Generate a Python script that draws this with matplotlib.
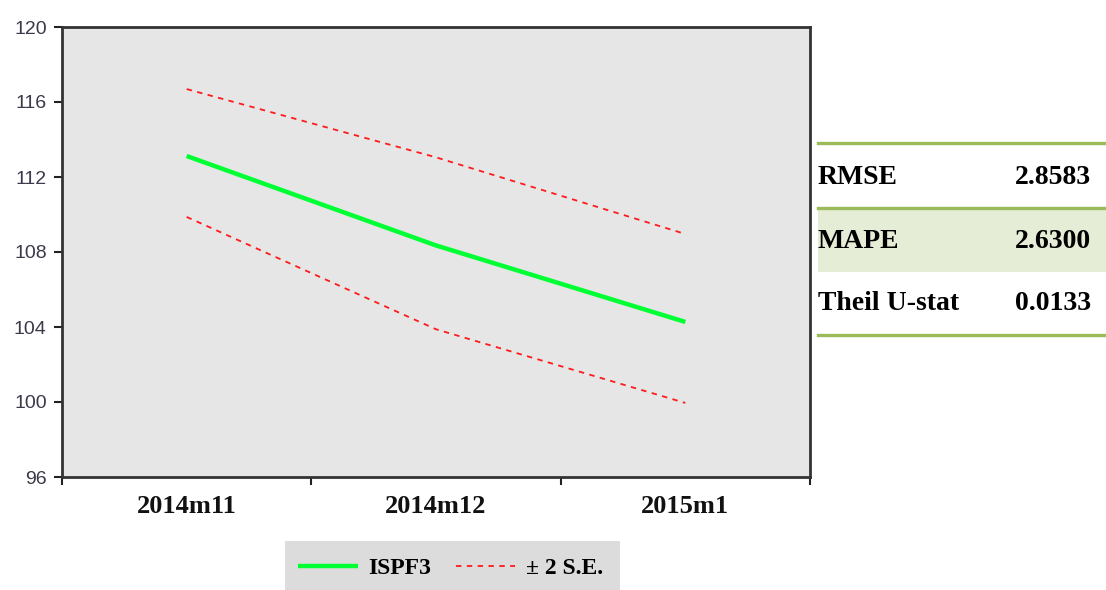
import numpy as np
import matplotlib
matplotlib.use("Agg")
import matplotlib.pyplot as plt
from matplotlib.patches import Rectangle
from matplotlib.lines import Line2D

# data
periods = ["2014m11", "2014m12", "2015m1"]
forecast = [113.12, 108.35, 104.27]
upper = [116.69, 113.05, 108.96]
lower = [109.87, 103.88, 99.95]
yticks = [96, 100, 104, 108, 112, 116, 120]

stat_names = ["RMSE", "MAPE", "Theil U-stat"]
stat_values = ["2.8583", "2.6300", "0.0133"]

W, H = 1106, 590
fig = plt.figure(figsize=(W / 100, H / 100), dpi=100)
fig.patch.set_facecolor("white")

# plot area
ax = fig.add_axes([62 / W, 1 - 477 / H, (810 - 62) / W, (477 - 27) / H])
ax.set_facecolor("#e6e6e6")
x = np.arange(1, len(periods) + 1)
ax.plot(x, forecast, color="#00ff33", lw=3.2, solid_capstyle="butt",
        label="ISPF3", zorder=3)
ax.plot(x, upper, color="#ff1a1a", lw=1.3, dashes=(3, 3), label="± 2 S.E.", zorder=2)
ax.plot(x, lower, color="#ff1a1a", lw=1.3, dashes=(3, 3), zorder=2)

ax.set_xlim(0.5, len(periods) + 0.5)
ax.set_ylim(96, 120)
ax.set_yticks(yticks)
ax.set_yticklabels([str(v) for v in yticks], fontfamily="Liberation Sans",
                   fontsize=14, color="#3a3a4a")
ax.set_xticks(np.arange(0.5, len(periods) + 1, 1.0))
ax.set_xticklabels([])
ax.set_xticks(x, minor=True)
ax.set_xticklabels(periods, minor=True, fontfamily="Liberation Serif",
                   fontweight="bold", fontsize=19, color="#111111")
ax.tick_params(axis="x", which="minor", length=0, pad=13)
ax.tick_params(axis="both", which="major", direction="out", length=6,
               width=1.5, color="#222222")
ax.tick_params(axis="y", pad=5)
for s in ax.spines.values():
    s.set_color("#333333")
    s.set_linewidth(2)

# legend box
fig.patches.append(Rectangle((285 / W, 0), (620 - 285) / W, (590 - 541) / H,
                             transform=fig.transFigure, facecolor="#dcdcdc",
                             edgecolor="none", zorder=0))
leg = fig.legend(loc="center", bbox_to_anchor=(451 / W, 1 - 568 / H), ncol=2,
                 frameon=False, handlelength=2.5, columnspacing=1.05,
                 handletextpad=0.47,
                 prop={"family": "Liberation Serif", "weight": "bold", "size": 17})

# stats table on the right
green = "#9bbb59"
fig.patches.append(Rectangle((818 / W, 1 - 272 / H), (W - 818) / W, (272 - 209) / H,
                             transform=fig.transFigure, facecolor="#e5edd6",
                             edgecolor="none", zorder=0))
for yy in [143, 208, 335]:
    fig.lines.append(Line2D([818 / W, 1.0], [1 - yy / H, 1 - yy / H],
                            transform=fig.transFigure, color=green, lw=2.4))
row_y = [178, 242, 304]
for name, val, yy in zip(stat_names, stat_values, row_y):
    fig.text(818 / W, 1 - yy / H, name, ha="left", va="center",
             fontfamily="Liberation Serif", fontweight="bold", fontsize=20)
    fig.text(1091 / W, 1 - yy / H, val, ha="right", va="center",
             fontfamily="Liberation Serif", fontweight="bold", fontsize=20)

fig.savefig("out.png", dpi=100)
